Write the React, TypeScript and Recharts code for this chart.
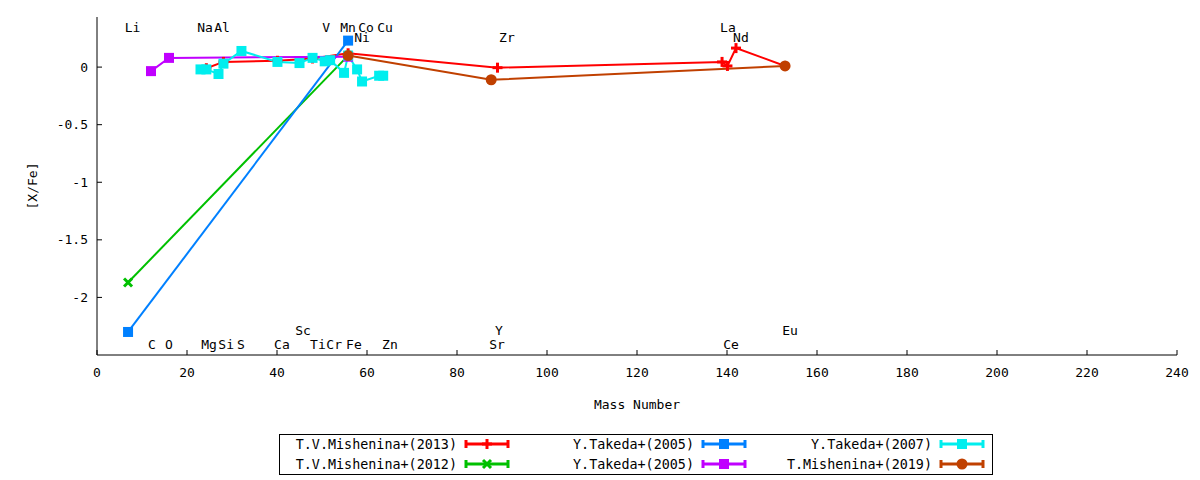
import { ComposedChart, Line, Scatter, XAxis, YAxis } from "recharts";

const FONT = "'DejaVu Sans Mono', monospace";

// x = mass number, y = [X/Fe]
const mish2013Mass = [24.3, 28.1, 40.1, 47.9, 55.8, 89.0, 138.9, 140.1, 142.0, 152.9];
const mish2013Val = [-0.01, 0.045, 0.055, 0.075, 0.12, -0.005, 0.045, 0.01, 0.165, 0.01];

const mish2012Mass = [6.9, 55.8];
const mish2012Val = [-1.87, 0.1];

const takeda2005aMass = [6.9, 55.8];
const takeda2005aVal = [-2.3, 0.23];

const takeda2005bMass = [12.0, 16.0, 55.8];
const takeda2005bVal = [-0.035, 0.08, 0.09];

const takeda2007Mass = [23.0, 24.3, 27.0, 28.1, 32.1, 40.1, 45.0, 47.9, 50.6, 51.8, 54.9, 55.8, 57.8, 58.9, 62.7, 63.6];
const takeda2007Val = [-0.02, -0.02, -0.06, 0.03, 0.14, 0.045, 0.035, 0.08, 0.05, 0.06, -0.05, 0.1, -0.02, -0.125, -0.075, -0.075];

const mish2019Mass = [55.8, 87.6, 152.9];
const mish2019Val = [0.1, -0.11, 0.01];

// element labels
const elemNames = ["Li", "Na", "Al", "V", "Mn", "Co", "Cu", "Ni", "Zr", "La", "Nd", "C", "O", "Mg", "Si", "S", "Ca", "Sc", "Ti", "Cr", "Fe", "Zn", "Y", "Sr", "Ce", "Eu"];
const elemX = [7.9, 24.0, 27.8, 50.9, 55.8, 59.8, 64.0, 58.9, 91.1, 140.2, 143.1, 12.2, 16.0, 24.9, 28.7, 32.0, 41.1, 45.8, 49.1, 52.7, 57.1, 65.1, 89.3, 88.9, 140.9, 154.0];
const elemY = [0.347, 0.347, 0.347, 0.347, 0.347, 0.347, 0.347, 0.26, 0.26, 0.347, 0.26, -2.413, -2.413, -2.413, -2.413, -2.413, -2.413, -2.29, -2.413, -2.413, -2.413, -2.413, -2.29, -2.413, -2.413, -2.29];

const xTicks = [0, 20, 40, 60, 80, 100, 120, 140, 160, 180, 200, 220, 240];
const yTicks = [-2, -1.5, -1, -0.5, 0];

const zip = (xs: number[], ys: number[]) => xs.map((x, i) => ({ x, y: ys[i] }));
const labels = elemNames.map((name, i) => ({ x: elemX[i], y: elemY[i], name }));

type MarkerKind = "plus" | "cross" | "square" | "circle";

const Marker = ({ kind, cx, cy, color }: { kind: MarkerKind; cx: number; cy: number; color: string }) => {
  if (kind === "plus") {
    return (
      <g stroke={color} strokeWidth={3}>
        <line x1={cx - 5} y1={cy} x2={cx + 5} y2={cy} />
        <line x1={cx} y1={cy - 5} x2={cx} y2={cy + 5} />
      </g>
    );
  }
  if (kind === "cross") {
    return (
      <g stroke={color} strokeWidth={3}>
        <line x1={cx - 4} y1={cy - 4} x2={cx + 4} y2={cy + 4} />
        <line x1={cx - 4} y1={cy + 4} x2={cx + 4} y2={cy - 4} />
      </g>
    );
  }
  if (kind === "square") {
    return <rect x={cx - 5} y={cy - 5} width={10} height={10} fill={color} />;
  }
  return <circle cx={cx} cy={cy} r={5.5} fill={color} />;
};

const series = [
  { name: "T.V.Mishenina+(2013)", color: "#ff0000", kind: "plus" as MarkerKind, data: zip(mish2013Mass, mish2013Val) },
  { name: "T.V.Mishenina+(2012)", color: "#00c000", kind: "cross" as MarkerKind, data: zip(mish2012Mass, mish2012Val) },
  { name: "Y.Takeda+(2005)", color: "#0080ff", kind: "square" as MarkerKind, data: zip(takeda2005aMass, takeda2005aVal) },
  { name: "Y.Takeda+(2005)", color: "#c000ff", kind: "square" as MarkerKind, data: zip(takeda2005bMass, takeda2005bVal) },
  { name: "Y.Takeda+(2007)", color: "#00eeee", kind: "square" as MarkerKind, data: zip(takeda2007Mass, takeda2007Val) },
  { name: "T.Mishenina+(2019)", color: "#c04000", kind: "circle" as MarkerKind, data: zip(mish2019Mass, mish2019Val) },
];

const xDomain = [0, 240];
const yDomain = [-2.5, 0.435];
const tickStyle = { fontFamily: FONT, fontSize: 13, fill: "#000" };

function ChartLegend() {
  const textEnd = [179, 416, 654];
  const rows = [10, 30];
  return (
    <svg
      width={716}
      height={42}
      style={{ position: "absolute", left: 278, top: 434 }}
    >
      <rect x={1.5} y={0.5} width={713} height={40} fill="#fff" stroke="#000" strokeWidth={1} />
      {series.map((s, i) => {
        const col = Math.floor(i / 2);
        const row = rows[i % 2];
        const tx = textEnd[col];
        const lx1 = tx + 9;
        const lx2 = tx + 51;
        return (
          <g key={`leg-${i}`}>
            <text
              x={tx}
              y={row}
              textAnchor="end"
              dominantBaseline="central"
              fontFamily={FONT}
              fontSize={13.4}
              fill="#000"
            >
              {s.name}
            </text>
            <g stroke={s.color} strokeWidth={3}>
              <line x1={lx1} y1={row} x2={lx2} y2={row} />
              <line x1={lx1} y1={row - 4} x2={lx1} y2={row + 4} />
              <line x1={lx2} y1={row - 4} x2={lx2} y2={row + 4} />
            </g>
            <Marker kind={s.kind} cx={(lx1 + lx2) / 2} cy={row} color={s.color} />
          </g>
        );
      })}
    </svg>
  );
}

export default function App() {
  return (
    <div style={{ position: "absolute", left: 0, top: 0, width: 1200, height: 480, background: "#fff" }}>
      <ComposedChart width={1200} height={480} margin={{ top: 17, right: 23, bottom: 0, left: 0 }}>
        <XAxis
          dataKey="x"
          type="number"
          domain={xDomain}
          ticks={xTicks}
          allowDataOverflow
          height={125}
          tickSize={-5}
          tickMargin={18}
          tick={tickStyle}
          stroke="#000"
          label={{
            content: ({ viewBox }: any) => (
              <text
                x={viewBox.x + viewBox.width / 2}
                y={404}
                textAnchor="middle"
                dominantBaseline="central"
                fontFamily={FONT}
                fontSize={13}
                fill="#000"
              >
                Mass Number
              </text>
            ),
          }}
        />
        <XAxis
          xAxisId="top"
          orientation="top"
          dataKey="x"
          type="number"
          domain={xDomain}
          ticks={xTicks}
          allowDataOverflow
          height={0}
          tickSize={-5}
          tick={false}
          stroke="#000"
        />
        <YAxis
          type="number"
          domain={yDomain}
          ticks={yTicks}
          allowDataOverflow
          width={97}
          tickSize={-5}
          tickMargin={14}
          tick={tickStyle}
          stroke="#000"
          label={{
            content: () => (
              <text
                x={32}
                y={186}
                transform="rotate(-90 32 186)"
                textAnchor="middle"
                dominantBaseline="central"
                fontFamily={FONT}
                fontSize={13}
                fill="#000"
              >
                [X/Fe]
              </text>
            ),
          }}
        />
        <YAxis
          yAxisId="right"
          orientation="right"
          type="number"
          domain={yDomain}
          ticks={yTicks}
          allowDataOverflow
          width={0}
          tickSize={-5}
          tick={false}
          stroke="#000"
        />
        {series.map((s, i) => (
          <Line
            key={`line-${i}`}
            data={s.data}
            dataKey="y"
            name={s.name}
            stroke={s.color}
            strokeWidth={2}
            isAnimationActive={false}
            activeDot={false}
            dot={(p: any) => (
              <g key={`dot-${i}-${p.index}`}>
                <Marker kind={s.kind} cx={p.cx} cy={p.cy} color={s.color} />
              </g>
            )}
          />
        ))}
        <Scatter
          data={labels}
          dataKey="y"
          isAnimationActive={false}
          shape={(p: any) => (
            <text
              x={p.cx}
              y={p.cy}
              textAnchor="middle"
              dominantBaseline="central"
              fontFamily={FONT}
              fontSize={13}
              fill="#000"
            >
              {p.payload.name}
            </text>
          )}
        />
      </ComposedChart>
      <ChartLegend />
    </div>
  );
}
